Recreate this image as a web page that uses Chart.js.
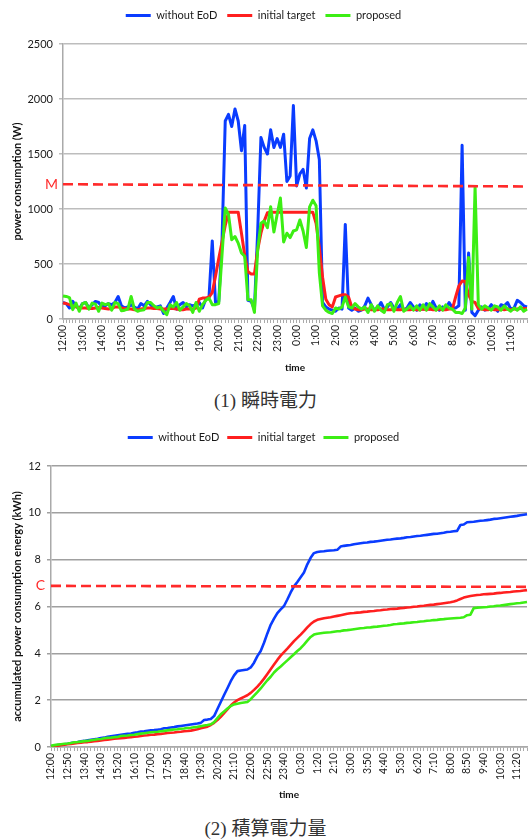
<!DOCTYPE html>
<html><head><meta charset="utf-8">
<script src="https://cdn.jsdelivr.net/npm/chart.js@4.4.1/dist/chart.umd.min.js"></script>
<style>
html,body{margin:0;padding:0;background:#fff;width:531px;height:839px;overflow:hidden}
#c1wrap{position:absolute;left:0;top:0;width:531px;height:382px}
#c2wrap{position:absolute;left:0;top:424px;width:531px;height:382px}
.cap{position:absolute;left:0;width:531px;text-align:center;font-family:"Liberation Serif","Noto Sans CJK JP",serif;font-size:19px;line-height:22px;color:#333}
</style></head><body>
<div id="c1wrap"><canvas id="c1"></canvas></div>
<div class="cap" style="top:390px">(1) 瞬時電力</div>
<div id="c2wrap"><canvas id="c2"></canvas></div>
<div class="cap" style="top:818px">(2) 積算電力量</div>
<script>
const seriesNames = ['without EoD', 'initial target', 'proposed'];
const seriesColors = ['#0a3cff', '#ff1f1f', '#3cee14'];
const limitColor = '#ff2a2a';

const hourLabels = ['12:00','13:00','14:00','15:00','16:00','17:00','18:00','19:00','20:00','21:00','22:00','23:00','0:00','1:00','2:00','3:00','4:00','5:00','6:00','7:00','8:00','9:00','10:00','11:00'];
const fiftyMinLabels = ['12:00','12:50','13:40','14:30','15:20','16:10','17:00','17:50','18:40','19:30','20:20','21:10','22:00','22:50','23:40','0:30','1:20','2:10','3:00','3:50','4:40','5:30','6:20','7:10','8:00','8:50','9:40','10:30','11:20'];
const yTicksPower = [0, 500, 1000, 1500, 2000, 2500];
const yTicksEnergy = [0, 2, 4, 6, 8, 10, 12];

// instantaneous power (W), 10-minute steps from 12:00
const power_withoutEoD = [150,140,100,160,120,90,140,150,100,130,160,150,110,120,140,130,150,205,120,100,110,130,110,90,140,120,160,130,100,110,120,50,100,150,
205,90,130,150,110,130,120,130,150,100,180,200,710,150,160,700,1800,1860,1750,1910,1800,1530,1760,170,160,90,800,1650,1560,1500,1720,1560,1640,1560,1680,1250,1300,1940,1210,
1320,1360,1190,1640,1720,1620,1450,150,110,90,80,70,100,90,860,100,80,100,70,80,120,190,130,80,100,150,90,110,150,100,90,130,80,100,150,110,80,130,90,
140,90,160,100,80,110,90,150,100,100,120,1580,80,600,60,30,80,110,80,90,130,100,70,130,120,150,90,100,170,150,120,110];
const power_initialTarget = [145,140,130,120,110,105,100,100,95,95,100,105,100,95,90,95,110,110,100,95,90,90,85,85,90,95,100,100,95,95,90,90,90,95,
95,90,85,85,90,90,90,100,180,190,190,200,240,390,550,700,850,970,970,970,970,780,580,430,410,410,630,780,890,965,970,970,970,970,970,970,970,970,970,
970,970,970,970,970,870,650,380,180,130,110,200,210,220,220,200,110,90,85,85,90,90,85,85,85,90,90,85,85,90,85,85,90,85,85,90,85,85,90,
85,90,85,85,90,85,85,90,90,200,300,345,340,220,160,150,95,90,85,85,90,85,85,90,85,90,85,90,90,95,95,95];
const power_proposed = [210,205,195,85,145,70,140,150,90,145,135,70,145,130,140,80,150,140,75,80,90,205,90,70,80,85,150,150,120,100,110,70,40,130,
110,150,80,110,140,120,60,150,70,130,170,190,130,130,140,580,1010,950,720,750,690,600,570,175,175,60,630,870,890,830,1020,790,950,1100,700,780,740,800,810,
900,800,650,1020,1080,1030,420,120,80,60,50,100,90,110,200,110,100,140,110,90,110,60,130,70,120,80,60,130,140,70,150,205,70,90,120,80,120,80,130,
80,140,110,80,120,80,130,100,90,60,60,50,100,560,90,1200,130,90,120,100,80,120,110,80,120,90,70,100,80,110,70,90];

// accumulated energy (kWh)
const energy_withoutEoD = [0.03,0.05,0.08,0.10,0.12,0.14,0.17,0.19,0.21,0.24,0.26,0.29,0.31,0.33,0.35,0.38,0.40,0.44,0.46,0.48,0.50,0.52,0.54,0.56,0.58,0.61,0.63,0.66,0.67,0.69,0.71,0.72,0.74,0.76,0.80,0.81,0.83,0.85,0.88,0.90,0.92,0.94,0.96,0.98,1.00,1.03,
1.15,1.17,1.20,1.32,1.62,1.92,2.22,2.51,2.81,3.06,3.24,3.27,3.29,3.31,
3.40,3.60,3.88,4.10,4.45,4.85,5.22,5.48,5.72,5.88,6.02,6.30,6.60,6.86,7.05,7.25,7.45,7.80,8.08,8.28,8.33,8.35,8.36,8.38,8.39,8.40,8.42,
8.56,8.59,8.61,8.63,8.66,8.68,8.70,8.72,8.73,8.76,8.77,8.79,8.81,8.83,8.85,8.86,8.88,8.90,8.91,8.93,8.96,8.97,8.99,9.01,9.02,9.04,9.06,9.08,9.10,9.11,9.13,9.15,9.18,9.19,9.21,9.23,9.48,9.50,9.60,9.61,9.62,9.64,9.66,9.67,9.69,9.71,9.74,9.75,9.77,9.79,9.81,9.83,9.85,9.87,9.90,9.92,9.94];
const energy_initialTarget = [0.02,0.04,0.06,0.08,0.10,0.12,0.13,0.15,0.17,0.18,0.20,0.21,0.23,0.25,0.26,0.28,0.30,0.31,0.33,0.35,0.36,0.38,0.39,0.41,0.42,0.44,0.45,0.47,0.49,0.50,0.52,0.53,0.55,0.56,0.58,0.60,0.61,0.62,0.64,0.65,0.67,0.68,0.70,0.73,0.76,0.80,
0.83,0.87,0.94,1.03,1.15,1.29,1.45,1.61,1.77,1.90,2.00,2.07,2.14,2.21,2.31,2.44,
2.58,2.74,2.92,3.12,3.32,3.52,3.72,3.90,4.05,4.20,4.36,4.52,4.66,4.80,4.95,5.11,5.25,5.36,5.43,5.47,5.50,5.52,5.54,5.57,5.60,5.63,5.66,5.69,5.71,5.72,5.74,5.75,5.77,5.78,5.80,5.81,5.83,5.84,5.86,5.87,5.89,5.90,5.91,5.93,5.94,5.96,5.97,5.99,6.00,6.02,6.03,6.05,6.07,6.08,6.10,6.12,6.14,6.16,6.18,6.21,6.26,6.32,6.38,6.42,6.45,6.47,6.49,6.50,6.52,6.53,6.54,6.55,6.57,6.58,6.60,6.61,6.62,6.64,6.65,6.66,6.68,6.70];
const energy_proposed = [0.05,0.08,0.10,0.12,0.14,0.15,0.17,0.20,0.21,0.23,0.25,0.26,0.29,0.31,0.33,0.34,0.37,0.39,0.40,0.42,0.43,0.47,0.48,0.49,0.51,0.52,0.55,0.57,0.59,0.61,0.63,0.64,0.65,0.67,0.69,0.71,0.73,0.75,0.76,0.78,0.79,0.81,0.82,0.84,0.86,0.89,0.92,0.94,0.97,
1.06,1.23,1.40,1.52,1.64,1.75,1.82,1.85,1.88,1.90,1.92,2.04,2.19,2.34,2.50,2.68,2.85,3.00,3.18,3.32,3.44,3.57,3.70,3.83,3.96,4.10,4.22,4.37,4.54,4.70,4.80,4.84,4.86,4.88,4.89,4.90,4.92,4.94,4.95,4.98,4.99,5.01,5.03,5.05,5.07,5.08,5.10,5.11,5.13,5.14,5.16,5.18,5.19,5.21,5.24,5.25,5.27,5.28,5.30,5.31,5.33,5.34,5.36,5.37,5.39,5.40,5.42,5.43,5.45,5.46,5.48,5.49,5.50,5.51,5.52,5.54,5.63,5.65,
5.93,5.95,5.96,5.97,5.98,6.00,6.01,6.03,6.04,6.06,6.08,6.10,6.12,6.14,6.15,6.17,6.19];

const limitM = [1225, 1205];   // start, end of dashed limit line M (W)
const limitC = [6.88, 6.84];   // start, end of dashed limit line C (kWh)

// time categories
const times = [];
for (let i = 0; i < power_withoutEoD.length; i++) {
  const m = (720 + 10 * i) % 1440;
  times.push(Math.floor(m / 60) + ':' + String(m % 60).padStart(2, '0'));
}
const limitSeries = pair => times.map((_, i) => i === 0 ? pair[0] : (i === times.length - 1 ? pair[1] : null));

const FONT = 'Lato, "Open Sans", "DejaVu Sans", sans-serif';

function makeChart(id, o) {
  const shown = new Set(o.tickLabels);
  const data = [o.s0, o.s1, o.s2];
  const datasets = data.map((d, k) => ({
    label: seriesNames[k], data: d, borderColor: seriesColors[k], backgroundColor: seriesColors[k],
    borderWidth: o.lw, pointRadius: 0, tension: 0, order: 3 - k, borderJoinStyle: 'round'
  }));
  datasets.push({ label: o.limitText, data: limitSeries(o.limit), borderColor: limitColor, backgroundColor: limitColor,
    borderWidth: 2.6, borderDash: [10, 5], spanGaps: true, pointRadius: 0, order: 0 });

  const plugins = [
    { id: 'legendHeight', beforeLayout(chart) {
        const lg = chart.legend;
        if (lg && !lg._fixedH) { const f = lg.fit; lg.fit = function () { f.call(this); this.height = o.legendH; }; lg._fixedH = true; }
    } },
    { id: 'limitLabel', afterDatasetsDraw(chart) {
        const { ctx, chartArea, scales } = chart;
        ctx.save(); ctx.fillStyle = limitColor; ctx.font = '14px ' + FONT;
        ctx.textAlign = 'right'; ctx.textBaseline = 'middle';
        ctx.fillText(o.limitText, chartArea.left - o.limitGap, scales.y.getPixelForValue(o.limit[0]));
        ctx.restore();
    } }
  ];

  return new Chart(document.getElementById(id), {
    type: 'line',
    data: { labels: times, datasets },
    plugins,
    options: {
      responsive: true, maintainAspectRatio: false, animation: false,
      layout: { padding: { left: 0, right: 4, top: 0, bottom: 0 } },
      plugins: {
        tooltip: { enabled: false },
        legend: {
          position: 'top',
          labels: {
            boxWidth: 25, boxHeight: 3, padding: o.legendPad, color: '#1a1a1a',
            font: { family: FONT, size: 11 },
            generateLabels: chart => chart.data.datasets.slice(0, 3).map((ds, i) => ({
              text: ds.label, fillStyle: ds.borderColor, strokeStyle: ds.borderColor, lineWidth: 0,
              hidden: false, datasetIndex: i, fontColor: '#1a1a1a'
            }))
          }
        }
      },
      scales: {
        x: {
          type: 'category', offset: false,
          grid: { display: true, drawOnChartArea: false, drawTicks: true, tickLength: 4, color: '#aaaaaa' },
          border: { display: true, color: '#aaaaaa', width: 1.5 },
          ticks: { autoSkip: false, maxRotation: 90, minRotation: 90, padding: 2, color: '#1a1a1a',
                   font: { family: FONT, size: 10.5 },
                   callback: (v, i) => shown.has(times[i]) ? times[i] : '' },
          title: { display: true, text: 'time', color: '#111', font: { family: FONT, size: 10, weight: 'bold' },
                   padding: { top: 0, bottom: o.xTitlePad } },
          afterFit: s => { s.height = o.xH; s.paddingLeft = 0; s.paddingRight = 0; }
        },
        y: {
          min: o.yTicks[0], max: o.yTicks[o.yTicks.length - 1],
          afterBuildTicks: s => { s.ticks = o.yTicks.map(v => ({ value: v })); },
          grid: { color: o.gridColor, lineWidth: 1.5, drawTicks: true, tickLength: 4 },
          border: { display: true, color: '#aaaaaa', width: 1.5 },
          ticks: { padding: 6, color: '#1a1a1a', font: { family: FONT, size: 11 }, callback: v => String(v) },
          title: { display: true, text: o.yTitle, color: '#111', font: { family: FONT, size: 11, weight: 'bold' },
                   padding: { top: 11, bottom: 0 } },
          afterFit: s => { s.width = o.yW; }
        }
      }
    }
  });
}

makeChart('c1', {
  s0: power_withoutEoD, s1: power_initialTarget, s2: power_proposed, lw: 3,
  tickLabels: hourLabels, yTicks: yTicksPower, yTitle: 'power consumption (W)',
  limit: limitM, limitText: 'M', limitGap: 5, gridColor: '#bdbdbd',
  legendH: 44, legendPad: 10, xH: 63, xTitlePad: 8, yW: 63
});
makeChart('c2', {
  s0: energy_withoutEoD, s1: energy_initialTarget, s2: energy_proposed, lw: 2.6,
  tickLabels: fiftyMinLabels, yTicks: yTicksEnergy, yTitle: 'accumulated power consumption energy (kWh)',
  limit: limitC, limitText: 'C', limitGap: 6, gridColor: '#a0a0a0',
  legendH: 42, legendPad: 8, xH: 59, xTitlePad: 5, yW: 51
});
</script>
</body></html>
